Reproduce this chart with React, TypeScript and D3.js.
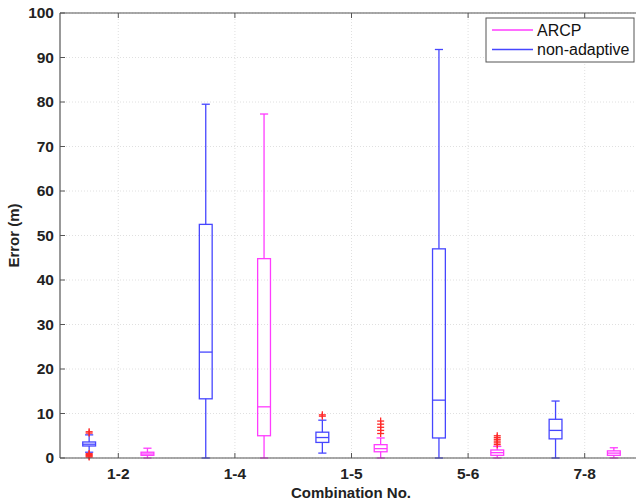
import React from "react";
import * as d3 from "d3";

const groups = ["1-2", "1-4", "1-5", "5-6", "7-8"];
const series = ["non-adaptive", "ARCP"];
const seriesColors = ["#4646ff", "#ff3cff"];
// per box, ordered: 1-2 blue, 1-2 pink, 1-4 blue, 1-4 pink, ...
const whiskerLow = [1.3, 0, 0, 0, 1.1, 0, 0, 0, 0, 0];
const q1 = [2.7, 0.6, 13.3, 5.0, 3.5, 1.4, 4.5, 0.6, 4.3, 0.6];
const medians = [3.1, 0.9, 23.8, 11.5, 4.6, 2.1, 13.0, 1.2, 6.2, 1.1];
const q3 = [3.6, 1.3, 52.5, 44.8, 5.8, 3.0, 47.0, 1.8, 8.7, 1.6];
const whiskerHigh = [5.2, 2.2, 79.5, 77.3, 8.5, 4.5, 91.8, 2.6, 12.8, 2.3];
const outliers: number[][] = [
  [5.6, 5.9, 0.2, 0.4, 0.6, 0.8, 1.0],
  [],
  [],
  [],
  [9.4, 9.7],
  [5.5, 6.2, 6.9, 7.6, 8.3],
  [],
  [3.0, 3.4, 3.8, 4.2, 4.6, 5.0],
  [],
  [],
];
const yTicks = [0, 10, 20, 30, 40, 50, 60, 70, 80, 90, 100];

const W = 636;
const H = 504;
const left = 60;
const right = 643;
const top = 13;
const bottom = 458;

export default function App() {
  const x = d3.scaleLinear().domain([0.5, 10.5]).range([left, right]);
  const y = d3.scaleLinear().domain([0, 100]).range([bottom, top]);
  const boxW = x(0.72) - x(0.5);
  const capW = x(0.64) - x(0.5);
  const font = "'Liberation Sans', Arial, Helvetica, sans-serif";
  const xTickPos = groups.map((_, i) => 2 * i + 1.5);

  return (
    <svg width={W} height={H} style={{ position: "absolute", left: 0, top: 0 }} fontFamily={font}>
      <rect x={0} y={0} width={W} height={H} fill="#fff" />
      {/* grid */}
      {yTicks.map((t) => (
        <line key={"gy" + t} x1={left} x2={right} y1={y(t)} y2={y(t)} stroke="#d8d8d8" strokeWidth={0.8} strokeDasharray="1,2" />
      ))}
      {xTickPos.map((p, i) => (
        <line key={"gx" + i} x1={x(p)} x2={x(p)} y1={top} y2={bottom} stroke="#d8d8d8" strokeWidth={0.8} strokeDasharray="1,2" />
      ))}
      {/* boxes */}
      {medians.map((m, i) => {
        const cx = x(i + 1);
        const c = seriesColors[i % 2];
        return (
          <g key={"b" + i} stroke={c} fill="none" strokeWidth={1.3}>
            <line x1={cx} x2={cx} y1={y(q3[i])} y2={y(whiskerHigh[i])} />
            <line x1={cx} x2={cx} y1={y(q1[i])} y2={y(whiskerLow[i])} />
            <line x1={cx - capW / 2} x2={cx + capW / 2} y1={y(whiskerHigh[i])} y2={y(whiskerHigh[i])} />
            <line x1={cx - capW / 2} x2={cx + capW / 2} y1={y(whiskerLow[i])} y2={y(whiskerLow[i])} />
            <rect x={cx - boxW / 2} y={y(q3[i])} width={boxW} height={y(q1[i]) - y(q3[i])} />
            <line x1={cx - boxW / 2} x2={cx + boxW / 2} y1={y(m)} y2={y(m)} />
            {outliers[i].map((o, j) => (
              <g key={j} stroke="#ff2a2a" strokeWidth={1.3}>
                <line x1={cx - 3.5} x2={cx + 3.5} y1={y(o)} y2={y(o)} />
                <line x1={cx} x2={cx} y1={y(o) - 3.5} y2={y(o) + 3.5} />
              </g>
            ))}
          </g>
        );
      })}
      {/* axes frame */}
      <line x1={left} x2={right} y1={bottom} y2={bottom} stroke="#555" strokeWidth={1.2} />
      <line x1={left} x2={right} y1={top} y2={top} stroke="#555" strokeWidth={1.2} />
      <line x1={left} x2={left} y1={top} y2={bottom} stroke="#555" strokeWidth={1.2} />
      {yTicks.map((t) => (
        <g key={"ty" + t}>
          <line x1={left} x2={left + 5} y1={y(t)} y2={y(t)} stroke="#555" />
          <text x={left - 6} y={y(t)} dy="0.35em" textAnchor="end" fontSize={15.5} fontWeight="bold" fill="#222">
            {t}
          </text>
        </g>
      ))}
      {xTickPos.map((p, i) => (
        <g key={"tx" + i}>
          <line x1={x(p)} x2={x(p)} y1={bottom} y2={bottom - 5} stroke="#555" />
          <line x1={x(p)} x2={x(p)} y1={top} y2={top + 5} stroke="#555" />
          <text x={x(p)} y={bottom + 21} textAnchor="middle" fontSize={15.5} fontWeight="bold" fill="#222">
            {groups[i]}
          </text>
        </g>
      ))}
      <text x={351} y={498} textAnchor="middle" fontSize={15} fontWeight="bold" fill="#222">
        Combination No.
      </text>
      <text transform={`translate(19,${(top + bottom) / 2}) rotate(-90)`} textAnchor="middle" fontSize={15} fontWeight="bold" fill="#222">
        Error (m)
      </text>
      {/* legend */}
      <g>
        <rect x={486} y={18} width={148} height={44} fill="#fff" stroke="#555" strokeWidth={1} />
        {["ARCP", "non-adaptive"].map((name, i) => {
          const c = seriesColors[series.indexOf(name)];
          const ly = 30 + i * 19.5;
          return (
            <g key={name}>
              <line x1={492} x2={533} y1={ly} y2={ly} stroke={c} strokeWidth={1.3} />
              <text x={537} y={ly} dy="0.35em" fontSize={16} fill="#111">
                {name}
              </text>
            </g>
          );
        })}
      </g>
    </svg>
  );
}
